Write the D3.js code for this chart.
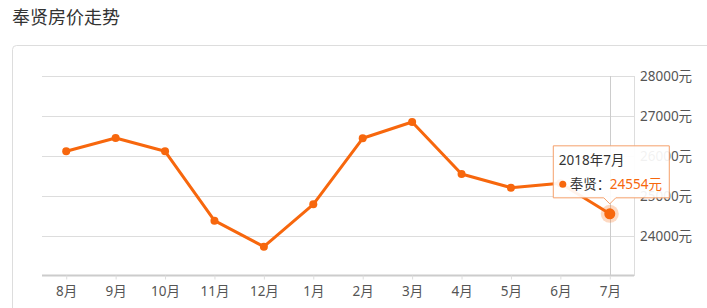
<!DOCTYPE html>
<html>
<head>
<meta charset="utf-8">
<script src="https://cdn.jsdelivr.net/npm/d3@7/dist/d3.min.js"></script>
<style>
  body { margin: 0; background: #fff; font-family: "Noto Sans", "Noto Sans CJK SC", sans-serif; }
  svg { display: block; }
</style>
</head>
<body>
<div id="chart"></div>
<script>
'use strict';

// Data
var title = '奉贤房价走势'
var months = ['8月', '9月', '10月', '11月', '12月', '1月', '2月', '3月', '4月', '5月', '6月', '7月']
var prices = [26117, 26450, 26117, 24383, 23733, 24793, 26443, 26850, 25550, 25208, 25320, 24554]
var yTicks = [24000, 25000, 26000, 27000, 28000]
var seriesName = '奉贤'
var hoverLabel = '2018年7月'
var hoverIndex = 11

var W = 707, H = 308
var color = '#f7670d'
var font = '"Noto Sans", "Noto Sans CJK SC", sans-serif'
var plot = {left: 42, right: 634, top: 76, bottom: 276}

var svg = d3.select('#chart').append('svg')
  .attr('width', W)
  .attr('height', H)
  .attr('font-family', font)

// Title
svg.append('text')
  .attr('x', 12)
  .attr('y', 24)
  .attr('font-size', 18)
  .attr('font-family', '"Noto Sans CJK SC", sans-serif')
  .attr('fill', '#333')
  .text(title)

// Panel
svg.append('rect')
  .attr('x', 12.5)
  .attr('y', 45.5)
  .attr('width', 720)
  .attr('height', 300)
  .attr('rx', 4)
  .attr('fill', '#fff')
  .attr('stroke', '#ddd')

// Scales
var x = d3.scalePoint()
  .domain(months)
  .range([plot.left, plot.right])
  .padding(0.49)

var y = d3.scaleLinear()
  .domain([23000, 28000])
  .range([plot.bottom, plot.top])

var g = svg.append('g')

// Grid lines
g.selectAll('.grid')
  .data(yTicks)
  .enter().append('line')
    .attr('x1', plot.left)
    .attr('x2', plot.right)
    .attr('y1', function(d){ return Math.round(y(d)) + 0.5 })
    .attr('y2', function(d){ return Math.round(y(d)) + 0.5 })
    .attr('stroke', '#ddd')

// Right border of plot
g.append('line')
  .attr('x1', plot.right + 0.5)
  .attr('x2', plot.right + 0.5)
  .attr('y1', plot.top)
  .attr('y2', plot.bottom)
  .attr('stroke', '#ddd')

// Y axis (right side labels)
var yAxis = d3.axisRight(y)
  .tickValues(yTicks)
  .tickSize(0)
  .tickPadding(6)
  .tickFormat(function(d){ return d + '元' })

var yg = g.append('g')
  .attr('transform', 'translate(' + plot.right + ',0)')
  .call(yAxis)
yg.select('.domain').remove()
yg.selectAll('.tick text')
  .attr('font-size', 13.5)
  .attr('font-family', font)
  .attr('fill', '#555')

// X axis
var xAxis = d3.axisBottom(x)
  .tickSize(4)
  .tickPadding(7)

var xg = g.append('g')
  .attr('transform', 'translate(0,' + (plot.bottom - 0.5) + ')')
  .call(xAxis)
xg.select('.domain')
  .attr('d', 'M' + plot.left + ',0H' + plot.right)
  .attr('stroke', '#ccc')
  .attr('stroke-width', 2)
xg.selectAll('.tick line')
  .attr('stroke', '#ddd')
xg.selectAll('.tick text')
  .attr('font-size', 13.5)
  .attr('font-family', font)
  .attr('fill', '#555')

// Crosshair
g.append('line')
  .attr('x1', Math.round(x(months[hoverIndex])) + 0.5)
  .attr('x2', Math.round(x(months[hoverIndex])) + 0.5)
  .attr('y1', plot.top)
  .attr('y2', plot.bottom)
  .attr('stroke', '#ccc')

// Line
var line = d3.line()
  .x(function(d, i){ return x(months[i]) })
  .y(function(d){ return y(d) })

g.append('path')
  .datum(prices)
  .attr('fill', 'none')
  .attr('stroke', color)
  .attr('stroke-width', 3)
  .attr('stroke-linejoin', 'round')
  .attr('d', line)

// Dots
g.selectAll('.dot')
  .data(prices)
  .enter().append('circle')
    .attr('cx', function(d, i){ return x(months[i]) })
    .attr('cy', function(d){ return y(d) })
    .attr('r', 4)
    .attr('fill', color)

// Highlighted point
var hx = x(months[hoverIndex]), hy = y(prices[hoverIndex])
g.append('circle')
  .attr('cx', hx).attr('cy', hy)
  .attr('r', 9)
  .attr('fill', color)
  .attr('opacity', 0.25)
g.append('circle')
  .attr('cx', hx).attr('cy', hy)
  .attr('r', 5.5)
  .attr('fill', color)

// Tooltip
var tipW = 117, tipH = 53
var tx = hx - 57, ty = hy - 68.5
var tip = g.append('g')
  .attr('transform', 'translate(' + tx + ',' + ty + ')')

tip.append('path')
  .attr('d', 'M0.5,0.5H' + (tipW - 0.5) + 'V' + (tipH - 0.5)
    + 'H' + (hx - tx + 6) + 'L' + (hx - tx) + ',' + (tipH + 5.5)
    + 'L' + (hx - tx - 6) + ',' + (tipH - 0.5) + 'H0.5Z')
  .attr('fill', 'rgba(255,255,255,0.92)')
  .attr('stroke', '#f5a06a')

tip.append('text')
  .attr('x', 6)
  .attr('y', 20)
  .attr('font-size', 13.5)
  .attr('fill', '#333')
  .text(hoverLabel)

tip.append('circle')
  .attr('cx', 10)
  .attr('cy', 39)
  .attr('r', 3.5)
  .attr('fill', color)

tip.append('text')
  .attr('x', 17)
  .attr('y', 44)
  .attr('font-size', 13.5)
  .attr('font-family', '"Noto Sans CJK SC", sans-serif')
  .attr('fill', '#333')
  .text(seriesName + '：')

tip.append('text')
  .attr('x', 57)
  .attr('y', 44)
  .attr('font-size', 13.5)
  .attr('fill', color)
  .text(prices[hoverIndex] + '元')
</script>
</body>
</html>
